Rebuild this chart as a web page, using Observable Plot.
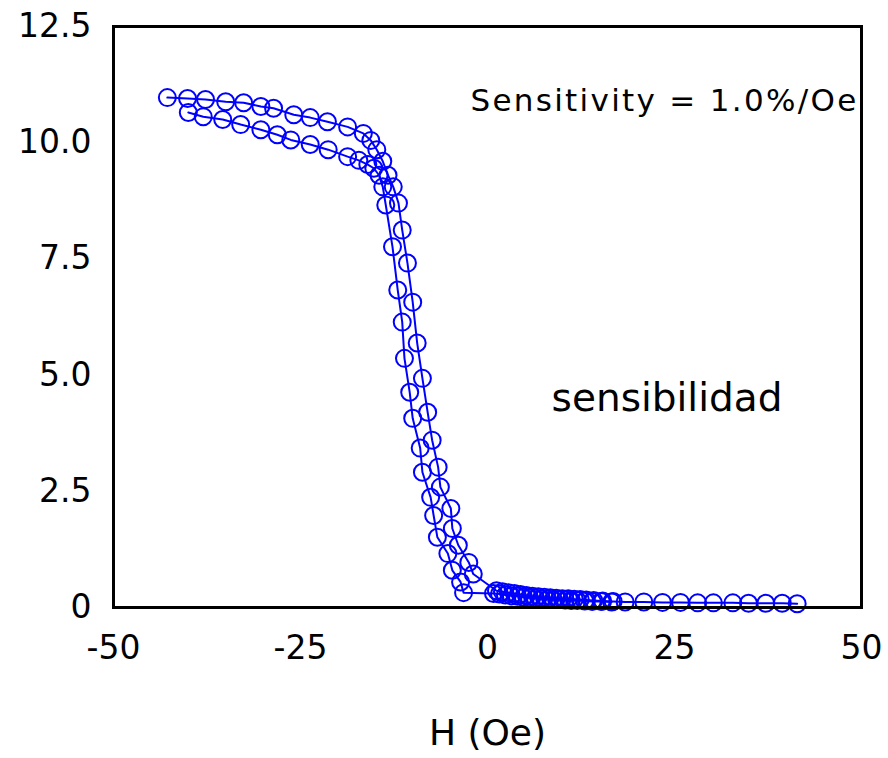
<!DOCTYPE html>
<html>
<head>
<meta charset="utf-8">
<script src="https://cdn.jsdelivr.net/npm/d3@7"></script>
<script src="https://cdn.jsdelivr.net/npm/@observablehq/plot@0.6"></script>
<style>
  html, body { margin: 0; padding: 0; background: #fff; }
  #chart svg { display: block; }
</style>
</head>
<body>
<div id="chart"></div>
<script>
// Branch A (upper branch on the left, right-hand side of the transition)
const branchA_H = [-42.8,-40.1,-37.7,-35.0,-32.6,-30.3,-28.6,-25.9,-23.7,-21.4,-18.7,-16.6,
  -15.6,-14.8,-14.0,-13.3,-12.6,-11.9,-11.4,-10.7,-10.0,-9.4,-8.7,-8.0,-7.4,-6.6,-6.3,-4.9,-4.7,-3.9,-2.5,-1.9,
  1.2,2.0,2.8,3.6,4.4,5.2,6.0,6.8,7.6,8.4,9.2,10.0,10.8,11.6,12.4,13.2,14.2,15.4,16.8,18.4,
  20.9,23.4,25.8,28.1,30.2,32.8,34.9,37.2,39.4,41.4];
const branchA_V = [10.97,10.95,10.93,10.88,10.86,10.78,10.74,10.6,10.54,10.45,10.34,10.2,
  10.05,9.85,9.6,9.3,9.05,8.7,8.12,7.41,6.57,5.69,4.93,4.2,3.6,3.02,2.59,2.13,1.7,1.34,0.97,0.72,
  0.36,0.34,0.32,0.3,0.28,0.26,0.24,0.23,0.22,0.21,0.2,0.19,0.19,0.18,0.17,0.16,0.15,0.14,0.13,0.12,
  0.12,0.11,0.11,0.1,0.1,0.1,0.09,0.09,0.09,0.08];

// Branch B (lower branch on the left, left-hand side of the transition)
const branchB_H = [-40.0,-38.0,-35.4,-33.0,-30.3,-28.1,-26.3,-23.7,-21.3,-18.7,-17.2,-16.0,-15.2,-14.5,-14.0,
  -13.6,-12.7,-12.0,-11.4,-11.1,-10.4,-10.0,-9.0,-8.7,-7.6,-7.2,-6.7,-5.3,-4.7,-3.6,-3.2,
  0.8,1.6,2.4,3.2,4.0,4.8,5.6,6.4,7.2,8.0,8.8,9.6,10.4,11.2,12.0,13.0,14.0,15.2,16.6];
const branchB_V = [10.65,10.56,10.5,10.39,10.28,10.17,10.06,9.96,9.85,9.7,9.62,9.53,9.45,9.3,9.05,
  8.66,7.76,6.83,6.14,5.36,4.63,4.07,3.43,2.91,2.37,1.98,1.51,1.16,0.8,0.55,0.32,
  0.3,0.29,0.27,0.25,0.24,0.22,0.21,0.2,0.19,0.18,0.17,0.17,0.16,0.15,0.15,0.14,0.13,0.13,0.12];

const xTicks = [-50, -25, 0, 25, 50];
const yTicks = [0, 2.5, 5, 7.5, 10, 12.5];
const xLabel = "H (Oe)";

const sensitivityNote = [{H: 49.6, V: 10.9, text: "Sensitivity = 1.0%/Oe"}];
const spanishNote = [{H: 24.0, V: 4.5, text: "sensibilidad"}];

const A = branchA_H.map((h, i) => ({H: h, V: branchA_V[i]}));
const B = branchB_H.map((h, i) => ({H: h, V: branchB_V[i]}));

const blue = "#0000ff";

const chart = Plot.plot({
  width: 888,
  height: 758,
  marginLeft: 113,
  marginRight: 27,
  marginTop: 26,
  marginBottom: 151,
  style: {fontFamily: "DejaVu Sans, sans-serif", fontSize: "33px", color: "black", background: "white"},
  x: {domain: [-50, 50]},
  y: {domain: [0, 12.5]},
  marks: [
    Plot.line(A, {x: "H", y: "V", stroke: blue, strokeWidth: 2}),
    Plot.line(B, {x: "H", y: "V", stroke: blue, strokeWidth: 2}),
    Plot.dot(A, {x: "H", y: "V", r: 8.5, stroke: blue, strokeWidth: 2, fill: "none"}),
    Plot.dot(B, {x: "H", y: "V", r: 8.5, stroke: blue, strokeWidth: 2, fill: "none"}),
    Plot.text(sensitivityNote, {x: "H", y: "V", text: "text", textAnchor: "end", fontSize: 31, fill: "black"}),
    Plot.text(spanishNote, {x: "H", y: "V", text: "text", textAnchor: "middle", fontSize: 39, fill: "black"}),
    Plot.frame({stroke: "black", strokeWidth: 3}),
    Plot.axisX(xTicks, {tickSize: 0, tickPadding: 28, label: null, tickFormat: d => String(d), fontSize: 33}),
    Plot.axisY(yTicks, {tickSize: 0, tickPadding: 22, label: null, tickFormat: d => d === 0 ? "0" : d.toFixed(1), fontSize: 33}),
    Plot.text([xLabel], {frameAnchor: "bottom", dy: 137, fontSize: 36, fill: "black"})
  ]
});
// widen the sensitivity note like the reference's wide bitmap font
d3.select(chart).selectAll("text").filter(function() { return this.textContent === sensitivityNote[0].text; })
  .attr("letter-spacing", "2.3px");
document.getElementById("chart").append(chart);
</script>
</body>
</html>
